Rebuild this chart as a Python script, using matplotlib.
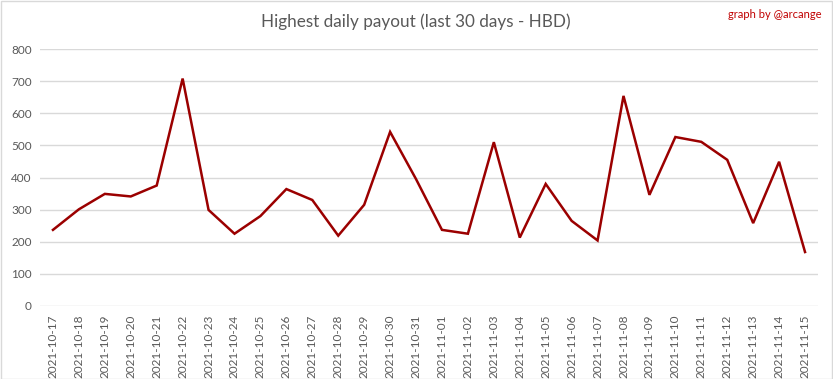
import matplotlib
matplotlib.use("Agg")
import matplotlib.pyplot as plt
from matplotlib.patches import Rectangle

dates = ["2021-10-17", "2021-10-18", "2021-10-19", "2021-10-20", "2021-10-21",
         "2021-10-22", "2021-10-23", "2021-10-24", "2021-10-25", "2021-10-26",
         "2021-10-27", "2021-10-28", "2021-10-29", "2021-10-30", "2021-10-31",
         "2021-11-01", "2021-11-02", "2021-11-03", "2021-11-04", "2021-11-05",
         "2021-11-06", "2021-11-07", "2021-11-08", "2021-11-09", "2021-11-10",
         "2021-11-11", "2021-11-12", "2021-11-13", "2021-11-14", "2021-11-15"]
payout = [237, 301, 349, 341, 375, 708, 299, 225, 280, 364,
          330, 219, 315, 542, 395, 237, 225, 510, 213, 380,
          265, 204, 654, 346, 526, 511, 455, 258, 449, 168]
yticks = [0, 100, 200, 300, 400, 500, 600, 700, 800]

plt.rcParams['font.family'] = ['Lato', 'DejaVu Sans']

W, H = 833, 379
fig = plt.figure(figsize=(W / 100, H / 100), dpi=100)
ax = fig.add_axes([40 / W, 1 - 306 / H, (818 - 40) / W, (306 - 49) / H])

x = list(range(len(dates)))
ax.plot(x, payout, color='#9b0000', linewidth=1.8, solid_joinstyle='miter')
ax.set_xlim(-0.5, len(dates) - 0.5)
ax.set_ylim(0, 800)
ax.set_yticks(yticks)
ax.set_yticklabels([str(v) for v in yticks], fontsize=8.5, color='#595959')
ax.set_xticks(x)
ax.set_xticklabels(dates, rotation=90, fontsize=8.5, color='#595959')
ax.tick_params(axis='both', length=0, pad=6)
ax.grid(axis='y', color='#d9d9d9', linewidth=1)
ax.set_axisbelow(True)
for s in ax.spines.values():
    s.set_visible(False)

fig.text(416 / W, 1 - 22 / H, "Highest daily payout (last 30 days - HBD)",
         ha='center', va='center', fontsize=12.3, color='#595959')
fig.text(821 / W, 1 - 15 / H, "graph by @arcange", ha='right', va='center',
         fontsize=8, color='#c00000')

fig.patches.append(Rectangle((0.5 / W, 0.5 / H), 1 - 1.5 / W, 1 - 1.5 / H,
                             transform=fig.transFigure, fill=False,
                             edgecolor='#d9d9d9', linewidth=1))

fig.savefig("out.png", dpi=100)
